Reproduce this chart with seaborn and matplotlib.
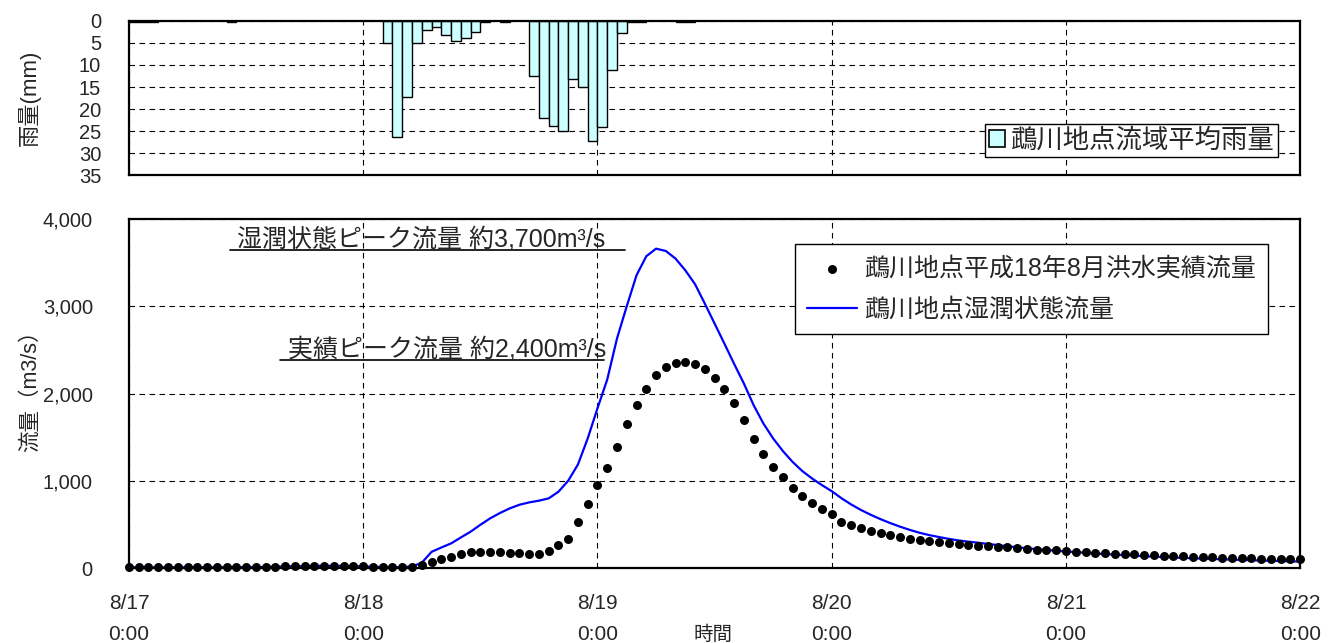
import numpy as np
import pandas as pd
import matplotlib
matplotlib.use("Agg")
import matplotlib.pyplot as plt
from matplotlib.patches import Patch
from matplotlib.ticker import MultipleLocator
import seaborn as sns

# ---------------- data ----------------
# hourly time axis: hours elapsed since 8/17 0:00
hours = np.arange(0, 121)

# basin-average rainfall (mm), hour in which it fell (start hour)
rain_hour = [0, 1, 2, 10, 26, 27, 28, 29, 30, 31, 32, 33, 34, 35, 36, 38,
             41, 42, 43, 44, 45, 46, 47, 48, 49, 50, 51, 52, 56, 57]
rain_mm = [0.2, 0.2, 0.2, 0.2, 5.0, 26.3, 17.3, 5.1, 2.1, 1.5, 3.2, 4.6, 4.0, 2.5, 0.4, 0.4,
           12.4, 22.0, 23.9, 25.0, 13.1, 15.0, 27.1, 24.0, 11.1, 2.7, 0.2, 0.2, 0.2, 0.2]

# observed discharge, H18/8 flood (m3/s), hourly
obs_flow = [
    8, 8, 8, 8, 8, 8, 8, 8, 8, 8, 10, 10, 10, 10, 12, 15, 18, 20, 22, 24, 25, 25, 24, 22,          # 8/17
    18, 14, 12, 12, 13, 16, 34, 65, 99, 130, 164, 183, 183, 179, 179, 176, 168, 160, 160, 198,
    263, 336, 527, 737,                                                                            # 8/18
    950, 1145, 1390, 1650, 1868, 2048, 2210, 2303, 2350, 2358, 2343, 2279, 2179, 2053, 1893, 1702,
    1477, 1302, 1156, 1038, 920, 828, 743, 680,                                                    # 8/19
    619, 527, 492, 454, 423, 396, 373, 354, 338, 323, 312, 296, 285, 277, 269, 258, 250, 246, 238,
    227, 219, 212, 208, 204,                                                                       # 8/20
    196, 187, 179, 172, 168, 164, 156, 156, 149, 145, 141, 137, 134, 130, 126, 122, 118, 115, 111,
    111, 107, 107, 103, 103,                                                                       # 8/21
    103,                                                                                           # 8/22 0:00
]

# discharge under wet antecedent conditions (m3/s), hourly
wet_flow = [
    8, 8, 8, 8, 8, 8, 8, 8, 8, 8, 10, 10, 10, 10, 12, 15, 18, 20, 22, 24, 25, 25, 24, 22,
    18, 14, 12, 8, 10, 18, 60, 185, 235, 282, 350, 416, 495, 569, 630, 683, 725, 752, 772, 798,
    874, 1000, 1187, 1485,
    1830, 2160, 2630, 3000, 3355, 3573, 3660, 3634, 3546, 3412, 3252, 3030, 2802, 2573, 2340, 2115,
    1866, 1656, 1485, 1340, 1215, 1110, 1025, 950,
    881, 800, 728, 665, 610, 560, 515, 474, 437, 404, 377, 355, 334, 316, 302, 290, 276, 263, 250,
    238, 226, 216, 207, 198,
    190, 182, 174, 167, 160, 154, 148, 142, 136, 131, 126, 121, 116, 112, 108, 104, 100, 96, 93,
    89, 86, 83, 80, 77,
    74,
]

day_ticks = [0, 24, 48, 72, 96, 120]
day_labels = ["8/17\n0:00", "8/18\n0:00", "8/19\n0:00", "8/20\n0:00", "8/21\n0:00", "8/22\n0:00"]
rain_ticks = [0, 5, 10, 15, 20, 25, 30, 35]
flow_ticks = [0, 1000, 2000, 3000, 4000]
flow_tick_labels = ["0", "1,000", "2,000", "3,000", "4,000"]

rain_label = "鵡川地点流域平均雨量"
obs_label = "鵡川地点平成18年8月洪水実績流量"
wet_label = "鵡川地点湿潤状態流量"
ann_wet = "湿潤状態ピーク流量 約3,700m³/s"
ann_obs = "実績ピーク流量 約2,400m³/s"

# ---------------- style ----------------
sns.set_style("white")
plt.rcParams["font.family"] = ["Liberation Sans", "Noto Sans CJK JP", "DejaVu Sans"]
plt.rcParams["axes.unicode_minus"] = False

fig = plt.figure(figsize=(13.28, 6.43), dpi=100)
ax_r = fig.add_axes([0.0971, 0.7271, 0.882, 0.2407])
ax_q = fig.add_axes([0.0971, 0.1166, 0.882, 0.5428])

grid_kw = dict(color="black", linestyle=(0, (5, 4)), linewidth=0.8)

# ---------------- rainfall (top) ----------------
rain_df = pd.DataFrame({"t": np.asarray(rain_hour) + 0.5, "mm": rain_mm})
sns.barplot(data=rain_df, x="t", y="mm", native_scale=True, orient="x", width=1,
            color="#CCFFFF", saturation=1, edgecolor="black", linewidth=1.0,
            errorbar=None, ax=ax_r)
ax_r.set_xlim(0, 120)
ax_r.set_ylim(35, 0)
ax_r.set_yticks(rain_ticks)
ax_r.set_yticklabels([str(v) for v in rain_ticks], fontsize=14.5)
ax_r.set_xticks(day_ticks)
ax_r.set_xticklabels([])
ax_r.tick_params(axis="x", length=0)
ax_r.tick_params(axis="y", direction="in", length=0, pad=20)
ax_r.set_xlabel("")
ax_r.set_ylabel("雨量(mm)", fontsize=16)
ax_r.yaxis.set_label_coords(-0.075, 0.5)
ax_r.grid(True, **grid_kw)
ax_r.set_axisbelow(True)
for s in ax_r.spines.values():
    s.set_color("black")
    s.set_linewidth(1.6)
ax_r.legend(handles=[Patch(facecolor="#CCFFFF", edgecolor="black", linewidth=1.2)],
            labels=[rain_label], loc="upper right", bbox_to_anchor=(0.981, 0.33),
            fontsize=19, frameon=True, fancybox=False, edgecolor="black", framealpha=1,
            handlelength=0.6, handleheight=0.6, handletextpad=0.2, borderpad=0.15,
            borderaxespad=0.0)

# ---------------- discharge (bottom) ----------------
flow_df = pd.DataFrame({"t": hours, "obs": obs_flow, "wet": wet_flow})
sns.lineplot(data=flow_df, x="t", y="wet", color="#0000FF", linewidth=1.6,
             ax=ax_q, label=wet_label, zorder=2)
sns.scatterplot(data=flow_df, x="t", y="obs", color="black", s=42, linewidth=0,
                ax=ax_q, label=obs_label, zorder=3, clip_on=False)
ax_q.set_xlim(0, 120)
ax_q.set_ylim(0, 4000)
ax_q.set_xticks(day_ticks)
ax_q.set_xticklabels(day_labels, fontsize=15, linespacing=1.75)
ax_q.xaxis.set_minor_locator(MultipleLocator(6))
ax_q.set_yticks(flow_ticks)
ax_q.set_yticklabels(flow_tick_labels, fontsize=14.5)
ax_q.tick_params(axis="x", which="both", direction="in", length=6, width=1, pad=19)
ax_q.tick_params(axis="y", which="both", direction="in", length=5, width=1, pad=26)
ax_q.set_xlabel("時間", fontsize=14)
ax_q.xaxis.set_label_coords(0.4987, -0.165)
ax_q.set_ylabel("流量（m3/s）", fontsize=15.5)
ax_q.yaxis.set_label_coords(-0.075, 0.523)
ax_q.grid(True, which="major", **grid_kw)
ax_q.set_axisbelow(True)
for s in ax_q.spines.values():
    s.set_color("black")
    s.set_linewidth(1.6)

h, l = ax_q.get_legend_handles_labels()
order = [l.index(obs_label), l.index(wet_label)]
ax_q.legend([h[i] for i in order], [l[i] for i in order], loc="upper right",
            bbox_to_anchor=(0.9727, 0.928), fontsize=18, frameon=True, fancybox=False,
            edgecolor="black", framealpha=1, handlelength=2.0, handletextpad=0.3,
            labelspacing=0.72, borderpad=0.48, borderaxespad=0.0)

# ---------------- peak annotations ----------------
ax_q.text(0.0925, 0.92, ann_wet, transform=ax_q.transAxes, fontsize=18,
          ha="left", va="baseline")
ax_q.plot([0.0862, 0.4236], [0.911, 0.911], transform=ax_q.transAxes,
          color="black", linewidth=1.2, clip_on=False)
ax_q.text(0.136, 0.607, ann_obs, transform=ax_q.transAxes, fontsize=18,
          ha="left", va="baseline")
ax_q.plot([0.129, 0.4056], [0.596, 0.596], transform=ax_q.transAxes,
          color="black", linewidth=1.2, clip_on=False)

fig.savefig("out.png", dpi=100)
